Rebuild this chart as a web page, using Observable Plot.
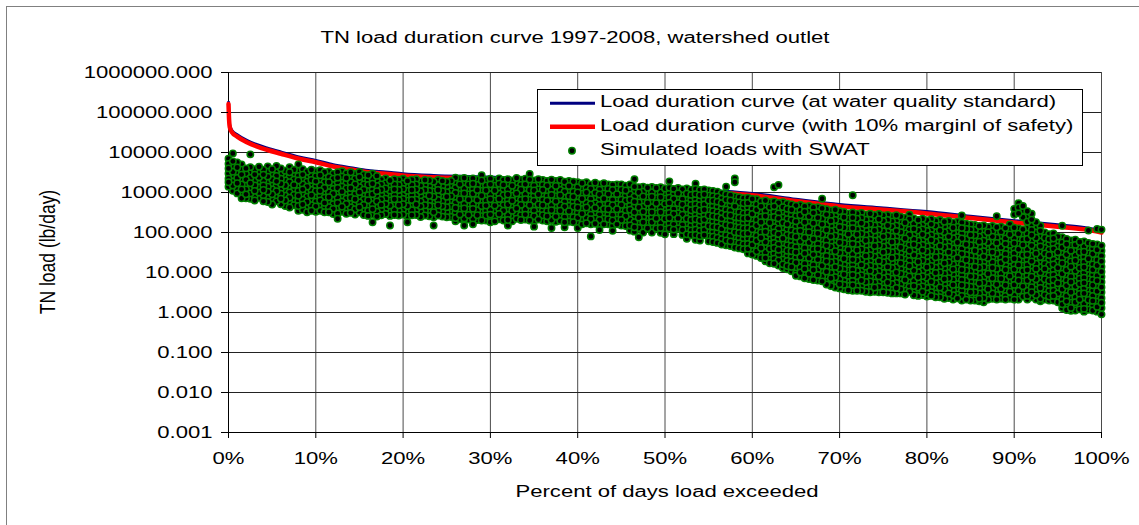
<!DOCTYPE html>
<html><head><meta charset="utf-8">
<script src="https://cdn.jsdelivr.net/npm/d3@7"></script>
<script src="https://cdn.jsdelivr.net/npm/@observablehq/plot@0.6"></script>
<style>
body{margin:0;background:#fff;}
#wrap{position:relative;width:1139px;height:525px;overflow:hidden;}
#border{position:absolute;left:6px;top:6px;width:1150px;height:540px;border:1px solid #808080;box-sizing:border-box;pointer-events:none;}
</style></head><body><div id="wrap"></div>
<script>
const titleText = "TN load duration curve 1997-2008, watershed outlet";
const xLabel = "Percent of days load exceeded";
const yLabel = "TN load (lb/day)";
const legendLabels = ["Load duration curve (at water quality standard)", "Load duration curve (with 10% marginl of safety)", "Simulated loads with SWAT"];
const xTicks = [0,10,20,30,40,50,60,70,80,90,100];
const yTicks = [0.001,0.01,0.1,1,10,100,1000,10000,100000,1000000];

const curvePct = [0,0.05,0.15,0.4,1,2.1,3.3,4.4,6,8.2,10,12,14,16,18,20,23.5,30,35,40,47,51,55,60,65,70,75,80,85,90,95,98,100];
const loadStandard = [181000,89000,47800,35600,27800,20000,15600,13000,10300,7670,6330,4970,4180,3560,3270,2960,2670,2430,2000,1720,1480,1310,1130,944,678,500,411,333,256,198,156,133,111];
const loadMOS = [163000,80000,43000,32000,25000,18000,14000,11700,9300,6900,5700,4470,3760,3200,2940,2660,2400,2190,1800,1550,1330,1180,1020,850,610,450,370,300,230,178,140,120,100];

const simPct = [0,0.5,1,1.5,2,2.5,3,3.5,4,4.5,5,5.5,6,6.5,7,7.5,8,8.5,9,9.5,10,10.5,11,11.5,12,12.5,13,13.5,14,14.5,15,15.5,16,16.5,17,17.5,18,18.5,19,19.5,20,20.5,21,21.5,22,22.5,23,23.5,24,24.5,25,25.5,26,26.5,27,27.5,28,28.5,29,29.5,30,30.5,31,31.5,32,32.5,33,33.5,34,34.5,35,35.5,36,36.5,37,37.5,38,38.5,39,39.5,40,40.5,41,41.5,42,42.5,43,43.5,44,44.5,45,45.5,46,46.5,47,47.5,48,48.5,49,49.5,50,50.5,51,51.5,52,52.5,53,53.5,54,54.5,55,55.5,56,56.5,57,57.5,58,58.5,59,59.5,60,60.5,61,61.5,62,62.5,63,63.5,64,64.5,65,65.5,66,66.5,67,67.5,68,68.5,69,69.5,70,70.5,71,71.5,72,72.5,73,73.5,74,74.5,75,75.5,76,76.5,77,77.5,78,78.5,79,79.5,80,80.5,81,81.5,82,82.5,83,83.5,84,84.5,85,85.5,86,86.5,87,87.5,88,88.5,89,89.5,90,90.5,91,91.5,92,92.5,93,93.5,94,94.5,95,95.5,96,96.5,97,97.5,98,98.5,99,99.5,100];
const simLoad = [
/*0*/[7000,5200,4000,3000,2200,1800,1400],
/*0.5*/[9500,6000,4500,3300,2500,1900,1500,1100],
/*1*/[5600,4200,3200,2300,1700,1260,950],
/*1.5*/[5000,3700,2800,2100,1600,1200,900,720],
/*2*/[4000,2900,2100,1600,1200,900,720],
/*2.5*/[9000,4300,3200,2300,1700,1300,950,700],
/*3*/[3800,2800,2000,1500,1100,830,630],
/*3.5*/[4400,3200,2400,1800,1350,1000,740],
/*4*/[3700,2800,2000,1500,1150,850,600],
/*4.5*/[4500,3300,2500,1900,1400,1050,780,580],
/*5*/[3800,2800,2100,1600,1200,900,660,500],
/*5.5*/[4600,3500,2600,1900,1450,1070,800,600],
/*6*/[4000,2950,2200,1650,1250,930,700,510],
/*6.5*/[3500,2700,2000,1500,1100,830,630,460],
/*7*/[4300,3200,2400,1800,1300,1000,740,550,420],
/*7.5*/[3700,2750,2100,1550,1150,870,650,480],
/*8*/[5000,3500,2600,2000,1500,1100,830,620,460,350],
/*8.5*/[3800,2800,2100,1600,1200,900,660,500,370],
/*9*/[3300,2500,1850,1400,1050,780,580,440,320],
/*9.5*/[3700,2750,2050,1550,1150,850,650,480,350],
/*10*/[3400,2550,1900,1400,1070,800,590,450,330],
/*10.5*/[3600,2700,2000,1500,1100,830,630,470,350],
/*11*/[3200,2400,1800,1300,1000,740,550,420,320],
/*11.5*/[3300,2450,1800,1400,1020,760,580,430,320],
/*12*/[2950,2200,1650,1230,930,700,510,390,290],
/*12.5*/[3200,2350,1800,1300,980,740,550,410,300,220],
/*13*/[3400,2500,1900,1400,1050,800,590,440,330],
/*13.5*/[3000,2300,1700,1260,950,700,520,400,295],
/*14*/[3200,2400,1800,1300,1000,740,550,420,310],
/*14.5*/[2900,2200,1600,1200,910,680,500,380,280],
/*15*/[3250,2450,1800,1350,1020,760,560,430,320],
/*15.5*/[2800,2150,1600,1170,890,660,490,370,275],
/*16*/[2700,2050,1550,1150,850,640,470,350,260],
/*16.5*/[2950,2200,1650,1230,910,690,510,380,280,180],
/*17*/[2600,1950,1450,1080,800,600,450,330,250],
/*17.5*/[2100,1600,1170,870,660,490,360,270],
/*18*/[2250,1700,1260,930,700,520,390,290],
/*18.5*/[2000,1500,1120,830,630,470,350,260,150],
/*19*/[2150,1600,1200,890,680,500,370,275],
/*19.5*/[2050,1550,1150,850,650,480,350,265],
/*20*/[2200,1650,1230,910,690,510,380,280],
/*20.5*/[1950,1480,1100,810,620,460,340,250,180],
/*21*/[2100,1550,1150,870,650,480,360,270],
/*21.5*/[2150,1600,1200,890,660,500,370,275],
/*22*/[1900,1450,1070,800,600,450,330,245],
/*22.5*/[2050,1550,1150,850,650,480,350,265],
/*23*/[2000,1480,1100,830,620,460,350,255],
/*23.5*/[1850,1400,1050,780,590,440,320,240,150],
/*24*/[2050,1550,1150,850,650,480,350,265],
/*24.5*/[1950,1450,1070,810,600,450,340,250],
/*25*/[1850,1380,1020,780,580,430,320,240],
/*25.5*/[1950,1450,1070,810,600,450,330,245],
/*26*/[2350,1800,1300,980,740,550,410,310,230,190],
/*26.5*/[2200,1600,1200,910,680,500,380,280,215],
/*27*/[2300,1700,1260,950,700,520,400,295,225,150],
/*27.5*/[2150,1600,1170,890,660,490,370,275,210],
/*28*/[2250,1650,1230,930,690,510,390,290,220,160],
/*28.5*/[2100,1550,1150,870,650,480,360,270,205],
/*29*/[2700,2000,1480,1100,830,620,460,350,255,200],
/*29.5*/[2050,1500,1120,850,630,470,350,265,200],
/*30*/[2200,1600,1200,910,680,500,370,280,210,180],
/*30.5*/[2000,1480,1120,830,620,470,350,255,190],
/*31*/[2250,1650,1260,930,690,520,390,290,215],
/*31.5*/[2050,1550,1150,850,650,480,350,270,200],
/*32*/[2150,1600,1200,890,660,500,370,275,205,150],
/*32.5*/[2000,1480,1100,830,620,460,350,255,190],
/*33*/[2300,1700,1260,950,700,520,400,295,220],
/*33.5*/[2100,1550,1170,870,650,490,360,270,205],
/*34*/[2200,1600,1230,910,680,510,380,280,210],
/*34.5*/[2900,2100,1550,1150,870,650,480,360,270,200],
/*35*/[2000,1480,1120,830,620,470,350,255,190,140],
/*35.5*/[2150,1600,1200,890,680,500,370,280,210],
/*36*/[2050,1550,1150,850,650,480,350,270,200],
/*36.5*/[1950,1480,1100,810,620,460,340,255,190],
/*37*/[2100,1600,1170,870,660,490,360,275,205,130],
/*37.5*/[1950,1450,1100,810,600,460,340,250,185],
/*38*/[2050,1500,1150,850,630,480,350,265,195],
/*38.5*/[1850,1380,1050,780,580,440,320,240,180,135],
/*39*/[1950,1450,1100,810,600,460,340,250,185],
/*39.5*/[1850,1380,1050,780,580,440,320,240,180],
/*40*/[1800,1350,1000,740,560,420,310,235,175,130],
/*40.5*/[1700,1260,930,700,520,390,295,220,160],
/*41*/[1800,1300,1000,740,550,420,310,230,170],
/*41.5*/[1600,1230,910,680,510,380,280,215,160,80],
/*42*/[1750,1300,980,720,540,410,300,225,165],
/*42.5*/[1600,1170,890,660,490,370,275,205,150,115],
/*43*/[1700,1260,930,700,520,390,295,220,160],
/*43.5*/[1600,1230,910,680,510,380,280,215,160],
/*44*/[1550,1150,850,650,480,350,270,200,148,110],
/*44.5*/[1600,1200,910,680,500,380,280,210,160],
/*45*/[1600,1170,890,660,490,370,275,205,150],
/*45.5*/[1480,1120,830,620,470,350,255,195,145],
/*46*/[1600,1170,890,660,490,370,275,205,150,112],
/*46.5*/[2150,1400,1050,780,590,440,320,245,180,135,105],
/*47*/[1350,1000,760,560,420,320,235,175,130,76],
/*47.5*/[1400,1050,800,590,440,330,245,180,135,100],
/*48*/[1320,980,740,550,410,310,230,170,128],
/*48.5*/[1380,1020,780,580,430,320,240,180,130,100],
/*49*/[1300,950,720,540,400,300,225,165,126],
/*49.5*/[1350,1000,760,560,420,320,235,175,130,98],
/*50*/[1260,930,700,520,390,295,220,160,120,90],
/*50.5*/[1900,1320,980,740,550,410,310,230,170,126],
/*51*/[1230,910,690,510,380,290,215,160,118,91],
/*51.5*/[1300,950,720,540,400,300,225,165,126],
/*52*/[1200,890,680,500,370,280,210,155,115,87],
/*52.5*/[1260,930,690,520,390,290,220,160,120,90,70],
/*53*/[1170,870,660,490,360,275,205,150,112,85],
/*53.5*/[1650,1230,910,690,510,380,290,215,160,118,87,66],
/*54*/[1150,850,630,480,350,265,200,148,110,81,63],
/*54.5*/[1200,890,680,500,370,280,210,155,115,85],
/*55*/[1120,830,630,470,350,265,195,145,107,80,60],
/*55.5*/[1100,810,620,460,340,255,190,140,105,78,58],
/*56*/[1050,780,590,440,320,245,180,135,100,74,55],
/*56.5*/[950,700,540,400,295,225,165,123,91,68,50],
/*57*/[1400,890,660,500,370,275,210,155,115,85,63,48],
/*57.5*/[850,630,480,350,265,200,148,110,81,60,46],
/*58*/[2250,1800,800,590,450,330,245,185,138,102,76,56,42],
/*58.5*/[760,560,430,320,235,180,132,98,72,54,40],
/*59*/[720,540,410,300,225,170,126,93,69,51,38],
/*59.5*/[740,550,420,310,230,175,129,95,71,52,39,30],
/*60*/[690,510,390,290,215,160,120,89,66,49,36,28],
/*60.5*/[680,500,370,275,205,150,112,83,62,46,34,26],
/*61*/[600,450,330,245,180,135,100,74,55,41,30,23],
/*61.5*/[630,470,350,255,190,140,105,78,58,43,32,23,19],
/*62*/[575,430,320,235,175,129,95,71,52,39,29,21,17],
/*62.5*/[1350,600,450,330,245,180,135,100,74,55,41,30,22,16.5],
/*63*/[1550,550,410,300,225,165,123,91,68,50,37,27.5,20,15],
/*63.5*/[575,430,320,235,175,129,95,71,52,39,29,21,16,13],
/*64*/[525,390,290,215,160,118,87,65,48,35,26,19.5,14.5,12],
/*64.5*/[500,370,275,205,150,112,83,62,46,34,25,18.5,13.8,10.7],
/*65*/[470,350,255,190,140,105,78,58,43,32,23,17.5,13,9.5,8.3],
/*65.5*/[490,360,270,200,148,110,81,60,45,33,24.5,18,13.5,10,8],
/*66*/[450,330,245,180,135,100,74,55,41,30,22,16.5,12.3,9,7.2],
/*66.5*/[460,340,250,185,138,102,76,56,42,31,23,17,12.6,9.3,6.9],
/*67*/[420,310,230,170,126,93,69,51,38,28,21,15.5,11.5,8.5,6.5],
/*67.5*/[430,320,235,175,129,95,71,52,39,29,21,16,11.7,8.7,6.3],
/*68*/[700,400,295,220,160,120,89,66,49,36,27,20,14.8,11,8.1,6],
/*68.5*/[380,280,210,155,115,85,63,47,35,26,19,14,10.5,7.8,5.8,5],
/*69*/[355,265,195,145,107,79,59,44,32,24,18,13.2,9.8,7.2,5.4,4.6],
/*69.5*/[370,275,205,150,112,83,62,46,34,25,18.6,13.8,10.2,7.6,5.6,4.2],
/*70*/[340,250,185,138,102,76,56,42,31,23,17,12.6,9.3,6.9,5.1,4],
/*70.5*/[325,240,178,132,98,72,54,40,30,22,16,12,8.9,6.6,4.9,3.8],
/*71*/[300,225,165,123,91,68,50,37,27.5,20.5,15,11.2,8.3,6.2,4.6,3.6],
/*71.5*/[850,315,235,175,129,95,71,52,39,29,21,16,11.7,8.7,6.5,4.8,3.5],
/*72*/[295,220,162,120,89,66,49,36,27,20,14.8,11,8.1,6,4.5,3.5],
/*72.5*/[310,230,170,126,93,69,51,38,28,21,15.5,11.5,8.5,6.3,4.7,3.5],
/*73*/[280,210,155,115,85,63,47,35,26,19,14,10.5,7.8,5.8,4.3,3.3],
/*73.5*/[295,220,162,120,89,66,49,36,27,20,14.8,11,8.1,6,4.5,3.2],
/*74*/[275,205,150,112,83,62,46,34,25,18.6,13.8,10.2,7.6,5.6,4.2,3.3],
/*74.5*/[290,215,160,118,87,65,48,35,26,19.5,14.5,10.7,8,5.9,4.4,3.2],
/*75*/[265,195,145,107,79,59,44,32,24,18,13.2,9.8,7.2,5.4,4,3.2],
/*75.5*/[275,205,150,112,83,62,46,34,25,18.6,13.8,10.2,7.6,5.6,4.2,3.1],
/*76*/[255,190,140,105,78,58,43,32,23,17.5,13,9.5,7,5.2,3.9,3],
/*76.5*/[270,200,148,110,81,60,45,33,24.5,18,13.5,10,7.4,5.5,4.1,3],
/*77*/[250,185,138,102,76,56,42,31,23,17,12.6,9.3,6.9,5.1,3.8,3],
/*77.5*/[235,175,129,95,71,52,39,29,21,16,11.7,8.7,6.5,4.8,3.5,2.8],
/*78*/[280,215,160,118,87,65,48,35,26,19.5,14.5,10.7,8,5.9,4.4,3.3],
/*78.5*/[225,165,123,91,68,50,37,27.5,20.5,15,11.2,8.3,6.2,4.6,3.4,2.7],
/*79*/[205,150,112,83,62,46,34,25,18.6,13.8,10.2,7.6,5.6,4.2,3.2,2.6],
/*79.5*/[220,162,120,89,66,49,36,27,20,14.8,11,8.1,6,4.5,3.3,2.75],
/*80*/[200,148,110,81,60,45,33,24.5,18,13.5,10,7.4,5.5,4.1,3,2.5],
/*80.5*/[215,160,118,87,65,48,35,26,19.5,14.5,10.7,8,5.9,4.4,3.2,2.6],
/*81*/[195,145,107,79,59,44,32,24,18,13.2,9.8,7.2,5.4,4,3,2.4],
/*81.5*/[205,150,112,83,62,46,34,25,18.6,13.8,10.2,7.6,5.6,4.2,3.1,2.4],
/*82*/[185,138,102,76,56,42,31,23,17,12.6,9.3,6.9,5.1,3.8,2.8,2.2],
/*82.5*/[195,145,107,79,59,44,32,24,18,13.2,9.8,7.2,5.4,4,3,2.3],
/*83*/[178,132,98,72,54,40,30,22,16,12,8.9,6.6,4.9,3.6,2.7,2.1],
/*83.5*/[185,138,102,76,56,42,31,23,17,12.6,9.3,6.9,5.1,3.8,2.8,2.25],
/*84*/[265,175,129,95,71,52,39,29,21,16,11.7,8.7,6.5,4.8,3.5,2.6,2],
/*84.5*/[165,123,91,68,50,37,27.5,20.5,15,11.2,8.3,6.2,4.6,3.4,2.5,2.1],
/*85*/[160,118,87,65,48,35,26,19.5,14.5,10.7,8,5.9,4.4,3.2,2.4,2],
/*85.5*/[155,115,85,63,47,35,26,19,14,10.5,7.8,5.8,4.3,3.2,2.4,2],
/*86*/[145,107,79,59,44,32,24,18,13.2,9.8,7.2,5.4,4,3,2.2,1.9],
/*86.5*/[150,112,83,62,46,34,25,18.6,13.8,10.2,7.6,5.6,4.2,3.1,2.3,1.8],
/*87*/[138,102,76,56,42,31,23,17,12.6,9.3,6.9,5.1,3.8,2.8,2.1],
/*87.5*/[145,107,79,59,44,32,24,18,13.2,9.8,7.2,5.4,4,3,2.2],
/*88*/[255,135,100,74,55,41,30,22,16.5,12.3,9,6.8,5,3.7,2.75,2.1],
/*88.5*/[140,105,78,58,43,32,23,17.5,13,9.5,7,5.2,3.9,2.9,2.2],
/*89*/[129,95,71,52,39,29,21,16,11.7,8.7,6.5,4.8,3.5,2.6,2.1],
/*89.5*/[160,120,89,66,49,36,27,20,14.8,11,8.1,6,4.5,3.3,2.5,2.2],
/*90*/[390,280,132,98,72,54,40,30,22,16,12,8.9,6.6,4.9,3.6,2.7,2.1],
/*90.5*/[540,420,300,126,93,69,51,38,28,21,15.5,11.5,8.5,6.3,4.7,3.5,2.6,2.1],
/*91*/[460,355,240,120,89,66,49,36,27,20,14.8,11,8.1,6,4.5,3.3,2.5],
/*91.5*/[340,250,185,126,93,69,51,38,28,21,15.5,11.5,8.5,6.3,4.7,3.5,2.6,2.1],
/*92*/[295,210,160,115,85,63,47,35,26,19,14,10.5,7.8,5.8,4.3,3.2,2.4],
/*92.5*/[180,135,100,74,55,41,30,22,16.5,12.3,9,6.8,5,3.7,2.75,2.1],
/*93*/[148,110,81,60,45,33,24.5,18,13.5,10,7.4,5.5,4.1,3,2.2,1.9],
/*93.5*/[100,74,55,41,30,22,16.5,12.3,9,6.8,5,3.7,2.75,2.1],
/*94*/[91,68,50,37,27.5,20.5,15,11.2,8.3,6.2,4.6,3.4,2.5,2],
/*94.5*/[95,71,52,39,29,21,16,11.7,8.7,6.5,4.8,3.5,2.6,2],
/*95*/[79,59,44,32,24,18,13.2,9.8,7.2,5.4,4,3,2.2,1.8],
/*95.5*/[148,76,56,42,31,23,17,12.6,9.3,6.9,5.1,3.8,2.8,2.1,1.6,1.3],
/*96*/[69,51,38,28,21,15.5,11.5,8.5,6.3,4.7,3.5,2.6,1.9,1.4,1.15],
/*96.5*/[63,47,35,26,19,14,10.5,7.8,5.8,4.3,3.2,2.3,1.75,1.3,1.1],
/*97*/[66,49,36,27,20,14.8,11,8.1,6,4.5,3.3,2.45,1.8,1.35,1.12],
/*97.5*/[58,43,32,23,17.5,13,9.5,7,5.2,3.9,2.9,2.1,1.6,1.2],
/*98*/[60,45,33,24.5,18,13.5,10,7.4,5.5,4.1,3,2.2,1.65,1.23,1.05],
/*98.5*/[112,55,41,30,22,16.5,12.3,9,6.8,5,3.7,2.75,2.05,1.5,1.17],
/*99*/[52,39,29,21,16,11.7,8.7,6.5,4.8,3.5,2.6,1.95,1.45,1.12],
/*99.5*/[123,50,37,27.5,20.5,15,11.2,8.3,6.2,4.6,3.4,2.5,1.85,1.38,1.05],
/*100*/[118,47,35,26,19,14,10.5,7.8,5.8,4.3,3.2,2.3,1.75,1.3,0.9]
];

const curveStd = curvePct.map((p, i) => ({pct: p, load: loadStandard[i]}));
const curveMos = curvePct.map((p, i) => ({pct: p, load: loadMOS[i]}));
const simFlat = simPct.flatMap((p, i) => (simLoad[i] || []).map(v => ({pct: p, load: v})));
// interleave the drawing order (days are not plotted in column order in the original)
const n = simFlat.length;
const sim = simFlat.map((d, i) => ({d, k: (i * 7919) % n})).sort((a, b) => a.k - b.k).map(o => o.d);

const SX = 1.38; // horizontal stretch of the reference's text
const FONT = "Liberation Sans, Arial, sans-serif";
const C_STD = "#000080", C_MOS = "#ff0000", C_DOT = "#008000";

const chart = Plot.plot({
  width: 1139, height: 525,
  marginLeft: 228, marginRight: 38, marginTop: 72, marginBottom: 93,
  style: {fontFamily: FONT, fontSize: "16px", color: "#000", background: "transparent", overflow: "visible"},
  x: {domain: [0, 100]},
  y: {type: "log", domain: [0.001, 1000000]},
  marks: [
    Plot.ruleX(xTicks, {x: d => d, stroke: "#4a4a4a", strokeWidth: 1}),
    Plot.ruleY(yTicks, {y: d => d, stroke: "#222", strokeWidth: 1}),
    Plot.ruleX([0], {stroke: "#000"}),
    Plot.ruleY([0.001], {stroke: "#000"}),
    Plot.lineY(curveStd, {x: "pct", y: "load", stroke: C_STD, strokeWidth: 3, curve: "monotone-x"}),
    Plot.lineY(curveMos, {x: "pct", y: "load", stroke: C_MOS, strokeWidth: 4.5, curve: "monotone-x"}),
    Plot.dot(sim, {x: "pct", y: "load", r: 3.2, fill: "#000", stroke: C_DOT, strokeWidth: 1.5}),
    Plot.axisX(xTicks, {tickFormat: d => d + "%", tickSize: 6, tickPadding: 14, label: null}),
    Plot.axisY(yTicks, {tickFormat: d => d.toFixed(3), tickSize: 7, tickPadding: 9, label: null})
  ]
});

// stretch tick label glyphs horizontally around their anchors
chart.querySelectorAll('g[aria-label="x-axis tick label"] text, g[aria-label="y-axis tick label"] text').forEach(t => {
  const tr = t.getAttribute("transform");
  if (tr) {
    t.setAttribute("transform", tr + ` scale(${SX},1)`);
  } else {
    const x = t.getAttribute("x") || 0;
    t.removeAttribute("x");
    t.setAttribute("transform", `translate(${x},0) scale(${SX},1)`);
  }
});

const s = d3.select(chart);
const g = s.append("g").attr("font-family", FONT).attr("font-size", 16).attr("fill", "#000");
g.append("text").attr("text-anchor", "middle").attr("transform", `translate(575,43.3) scale(${SX},1)`).text(titleText);
g.append("text").attr("text-anchor", "middle").attr("transform", `translate(667,496.5) scale(${SX},1)`).text(xLabel);
g.append("text").attr("text-anchor", "middle").attr("font-size", 17.5).attr("transform", `translate(55,252) rotate(-90) scale(1,1.26)`).text(yLabel);

// legend
const L = g.append("g");
L.append("rect").attr("x", 537.5).attr("y", 89.5).attr("width", 545).attr("height", 76).attr("fill", "#fff").attr("stroke", "#000");
L.append("line").attr("x1", 550).attr("x2", 595).attr("y1", 103.3).attr("y2", 103.3).attr("stroke", C_STD).attr("stroke-width", 3);
L.append("line").attr("x1", 550).attr("x2", 595).attr("y1", 126.7).attr("y2", 126.7).attr("stroke", C_MOS).attr("stroke-width", 4.5);
L.append("circle").attr("cx", 572).attr("cy", 150.7).attr("r", 3.2).attr("fill", "#000").attr("stroke", C_DOT).attr("stroke-width", 1.5);
[106.7, 130.7, 154.7].forEach((by, i) => {
  L.append("text").attr("text-anchor", "start").attr("transform", `translate(600,${by}) scale(${SX},1)`).text(legendLabels[i]);
});

const wrap = document.getElementById("wrap");
wrap.appendChild(chart);
const b = document.createElement("div"); b.id = "border"; wrap.appendChild(b);
</script>
</body></html>
